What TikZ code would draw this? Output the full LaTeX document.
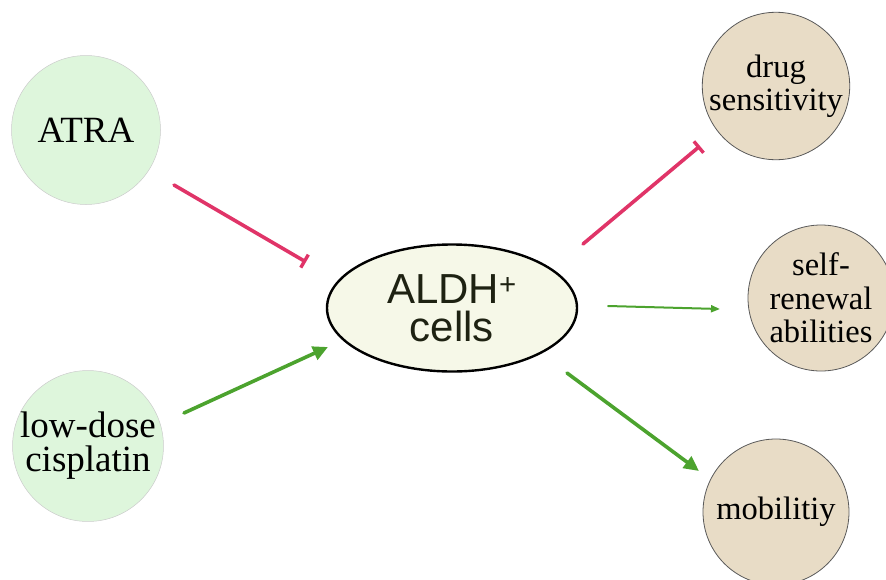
\documentclass[tikz,border=0pt]{standalone}
\usepackage{fontspec}
\setmainfont{Liberation Serif}
\newfontfamily\arialf{Liberation Sans}
\usetikzlibrary{shapes.geometric,arrows.meta}
\definecolor{pinkc}{HTML}{E03468}
\definecolor{greenc}{HTML}{4CA32E}
\definecolor{lgreen}{HTML}{DEF6DC}
\definecolor{beige}{HTML}{E8DCC6}
\definecolor{cream}{HTML}{F6F8E8}
\definecolor{txtdark}{HTML}{1E2212}
\tikzset{
  srcnode/.style={circle,fill=lgreen,draw=gray!40,line width=0.5pt,minimum size=149pt,inner sep=0pt,align=center,font=\fontsize{37}{34}\selectfont},
  outnode/.style={circle,fill=beige,draw=gray!70!black,line width=0.8pt,minimum size=146pt,inner sep=0pt,align=center,font=\fontsize{32.5}{33.5}\selectfont},
  inh/.style={pinkc,line width=3.6pt,line cap=round,-{Bar[width=15pt,line width=3.4pt]}},
  act/.style={greenc,line width=3.6pt,line cap=round,-{Triangle[length=15pt,width=14pt]}},
  actthin/.style={greenc,line width=2pt,line cap=round,-{Triangle[length=9pt,width=7pt]}}
}
\begin{document}
\begin{tikzpicture}[x=1pt,y=-1pt]
\useasboundingbox (0,0) rectangle (886,579);
\node[srcnode] (atra) at (86,130) {ATRA};
\node[srcnode] (cis) at (88,446) {low-dose\\cisplatin};
\node[ellipse,fill=cream,draw=black,line width=2.4pt,minimum width=250pt,minimum height=127pt,inner sep=0pt,align=center,text=txtdark,font=\arialf\fontsize{42}{38}\selectfont] (aldh) at (452,308) {ALDH\textsuperscript{+}\\cells};
\node[outnode] (drug) at (776,86) {drug\\sensitivity};
\node[outnode] (self) at (821,298) {self-\\renewal\\abilities};
\node[outnode] (mob) at (776,512) {mobilitiy};
\coordinate (a1) at (174,185);
\coordinate (a2) at (306,262);
\coordinate (c1) at (184,413);
\coordinate (c2) at (328,347);
\coordinate (d1) at (583,244);
\coordinate (d2) at (700,146);
\coordinate (s1) at (608,306);
\coordinate (s2) at (720,309);
\coordinate (m1) at (567,373);
\coordinate (m2) at (699,471);
\draw[inh] (a1) -- (a2);
\draw[act] (c1) -- (c2);
\draw[inh] (d1) -- (d2);
\draw[actthin] (s1) -- (s2);
\draw[act] (m1) -- (m2);
\end{tikzpicture}
\end{document}
